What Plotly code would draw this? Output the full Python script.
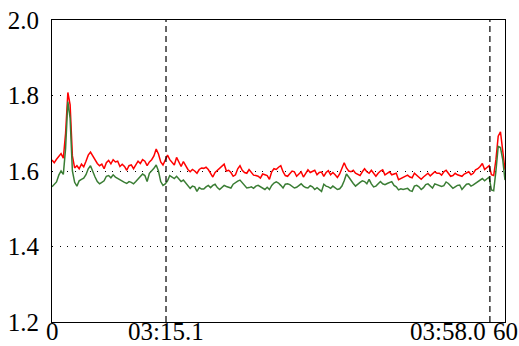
import plotly.graph_objects as go

# sampled time (seconds), one sample every 0.3 s from 0 to 60
step = 0.3

red = [
    1.629, 1.622, 1.631, 1.640, 1.646, 1.634, 1.700, 1.808, 1.775, 1.640,
    1.608, 1.614, 1.606, 1.618, 1.611, 1.626, 1.642, 1.650, 1.640, 1.632,
    1.620, 1.614, 1.618, 1.606, 1.622, 1.628, 1.619, 1.630, 1.624, 1.626,
    1.612, 1.618, 1.612, 1.602, 1.614, 1.616, 1.606, 1.616, 1.626, 1.620,
    1.630, 1.626, 1.614, 1.624, 1.630, 1.640, 1.658, 1.645, 1.624, 1.616,
    1.628, 1.642, 1.630, 1.622, 1.616, 1.636, 1.622, 1.612, 1.625, 1.614,
    1.604, 1.598, 1.604, 1.600, 1.594, 1.604, 1.608,
    1.607, 1.610, 1.604, 1.594, 1.584, 1.596, 1.601, 1.606, 1.612, 1.618,
    1.600, 1.602, 1.596, 1.586, 1.590, 1.606, 1.614, 1.602, 1.596, 1.594,
    1.604, 1.596, 1.589, 1.588, 1.586, 1.581, 1.592, 1.590, 1.588, 1.578,
    1.598, 1.606, 1.604, 1.610, 1.614, 1.598, 1.588, 1.586, 1.594, 1.600,
    1.598, 1.586, 1.592, 1.598, 1.584, 1.592, 1.603, 1.596, 1.600, 1.602,
    1.590, 1.596, 1.597, 1.586, 1.596, 1.601, 1.590, 1.596, 1.590, 1.583,
    1.592, 1.606, 1.622, 1.608, 1.600, 1.598, 1.602,
    1.594, 1.592, 1.588, 1.598, 1.606, 1.598, 1.594, 1.602, 1.594, 1.586,
    1.594, 1.600, 1.603, 1.590, 1.594, 1.598, 1.590, 1.592, 1.594, 1.577,
    1.580, 1.583, 1.586, 1.589, 1.584, 1.582, 1.594, 1.588, 1.584, 1.578,
    1.584, 1.590, 1.594, 1.587, 1.592, 1.598, 1.594, 1.594, 1.589, 1.598,
    1.602, 1.594, 1.586, 1.588, 1.594, 1.590, 1.588, 1.586, 1.592, 1.596,
    1.598, 1.590, 1.594, 1.603, 1.606, 1.612, 1.620, 1.604, 1.610, 1.614,
    1.590, 1.588, 1.630, 1.692, 1.704, 1.660, 1.603,
]

green = [
    1.558, 1.566, 1.571, 1.589, 1.600, 1.591, 1.660, 1.784, 1.740, 1.600,
    1.570, 1.560, 1.574, 1.578, 1.581, 1.590, 1.606, 1.614, 1.596, 1.584,
    1.572, 1.566, 1.570, 1.574, 1.586, 1.588, 1.582, 1.590, 1.584, 1.580,
    1.576, 1.574, 1.570, 1.567, 1.572, 1.570, 1.566, 1.572, 1.578, 1.585,
    1.592, 1.588, 1.572, 1.594, 1.600, 1.607, 1.616, 1.600, 1.572, 1.562,
    1.566, 1.574, 1.588, 1.584, 1.580, 1.586, 1.578, 1.572, 1.576, 1.568,
    1.560, 1.554, 1.560, 1.558, 1.546, 1.556, 1.552,
    1.552, 1.558, 1.562, 1.556, 1.562, 1.565, 1.556, 1.551, 1.556, 1.562,
    1.559, 1.556, 1.555, 1.565, 1.570, 1.573, 1.576, 1.568, 1.562, 1.555,
    1.556, 1.558, 1.554, 1.560, 1.562, 1.559, 1.554, 1.551, 1.557, 1.551,
    1.562, 1.568, 1.571, 1.568, 1.562, 1.555, 1.565, 1.566, 1.564, 1.560,
    1.555, 1.557, 1.562, 1.566, 1.560, 1.556, 1.555, 1.561, 1.558, 1.551,
    1.556, 1.552, 1.546, 1.565, 1.560, 1.558, 1.554, 1.560, 1.556, 1.551,
    1.553, 1.560, 1.574, 1.592, 1.584, 1.574, 1.567,
    1.560, 1.566, 1.570, 1.574, 1.572, 1.566, 1.578, 1.566, 1.558, 1.560,
    1.566, 1.572, 1.566, 1.564, 1.567, 1.570, 1.572, 1.562, 1.558, 1.550,
    1.553, 1.551, 1.552, 1.554, 1.548, 1.546, 1.560, 1.562, 1.558, 1.551,
    1.556, 1.564, 1.566, 1.560, 1.555, 1.566, 1.564, 1.563, 1.559, 1.561,
    1.571, 1.567, 1.560, 1.554, 1.558, 1.562, 1.563, 1.551, 1.558, 1.565,
    1.566, 1.560, 1.563, 1.567, 1.572, 1.575, 1.580, 1.574, 1.580, 1.584,
    1.550, 1.548, 1.600, 1.665, 1.662, 1.630, 1.576,
]

t = [round(i * step, 2) for i in range(len(red))]

# event markers (seconds) and their labels
event_x = [15.1, 58.0]
event_labels = ["03:15.1", "03:58.0"]

x_ticks = [0, 15.1, 60]
x_ticktext = ["0", "03:15.1", "60"]
y_ticks = [1.2, 1.4, 1.6, 1.8, 2.0]
y_ticktext = ["1.2", "1.4", "1.6", "1.8", "2.0"]

FONT = "Liberation Serif"
FS = 25

fig = go.Figure()
fig.add_trace(go.Scatter(x=t, y=red, mode="lines",
                         line=dict(color="#ff0000", width=1.5), showlegend=False))
fig.add_trace(go.Scatter(x=t, y=green, mode="lines",
                         line=dict(color="#3a7d34", width=1.5), showlegend=False))

for ex in event_x:
    fig.add_shape(type="line", xref="x", yref="paper", x0=ex, x1=ex, y0=0, y1=1,
                  line=dict(color="black", width=1.2, dash="6px,4px"), layer="above")

# x tick labels placed as annotations just under the axis
for tv, tt in zip(x_ticks, x_ticktext):
    fig.add_annotation(x=tv, y=0, xref="x", yref="paper", text=tt, showarrow=False,
                       xanchor="center", yanchor="top", yshift=5, borderpad=0,
                       font=dict(family=FONT, size=FS, color="black"))

# the second event label is shifted left so that it does not collide with "60"
fig.add_annotation(x=event_x[1] - 0.4, y=0, xref="x", yref="paper",
                   text=event_labels[1], showarrow=False, xanchor="right", yanchor="top",
                   yshift=5, borderpad=0, font=dict(family=FONT, size=FS, color="black"))

fig.update_layout(
    width=519, height=346,
    margin=dict(l=52, r=14, t=20, b=24, autoexpand=False),
    paper_bgcolor="white", plot_bgcolor="white",
    font=dict(family=FONT, size=FS, color="black"),
    xaxis=dict(range=[0, 60], tickvals=x_ticks, showticklabels=False, automargin=False,
               showgrid=False, zeroline=False, showline=True, mirror=True,
               linecolor="black", linewidth=1.2, ticks=""),
    yaxis=dict(range=[1.2, 2.0], tickvals=y_ticks, ticktext=y_ticktext, automargin=False,
               showgrid=True, gridcolor="black", gridwidth=1, griddash="1px,6.5px",
               zeroline=False, showline=True, mirror=True,
               linecolor="black", linewidth=1.2, ticks="", ticklabelstandoff=7),
)

fig.write_html("out.html", config={"displayModeBar": False},
               post_script="document.body.style.margin='0';document.body.style.overflow='hidden';")
